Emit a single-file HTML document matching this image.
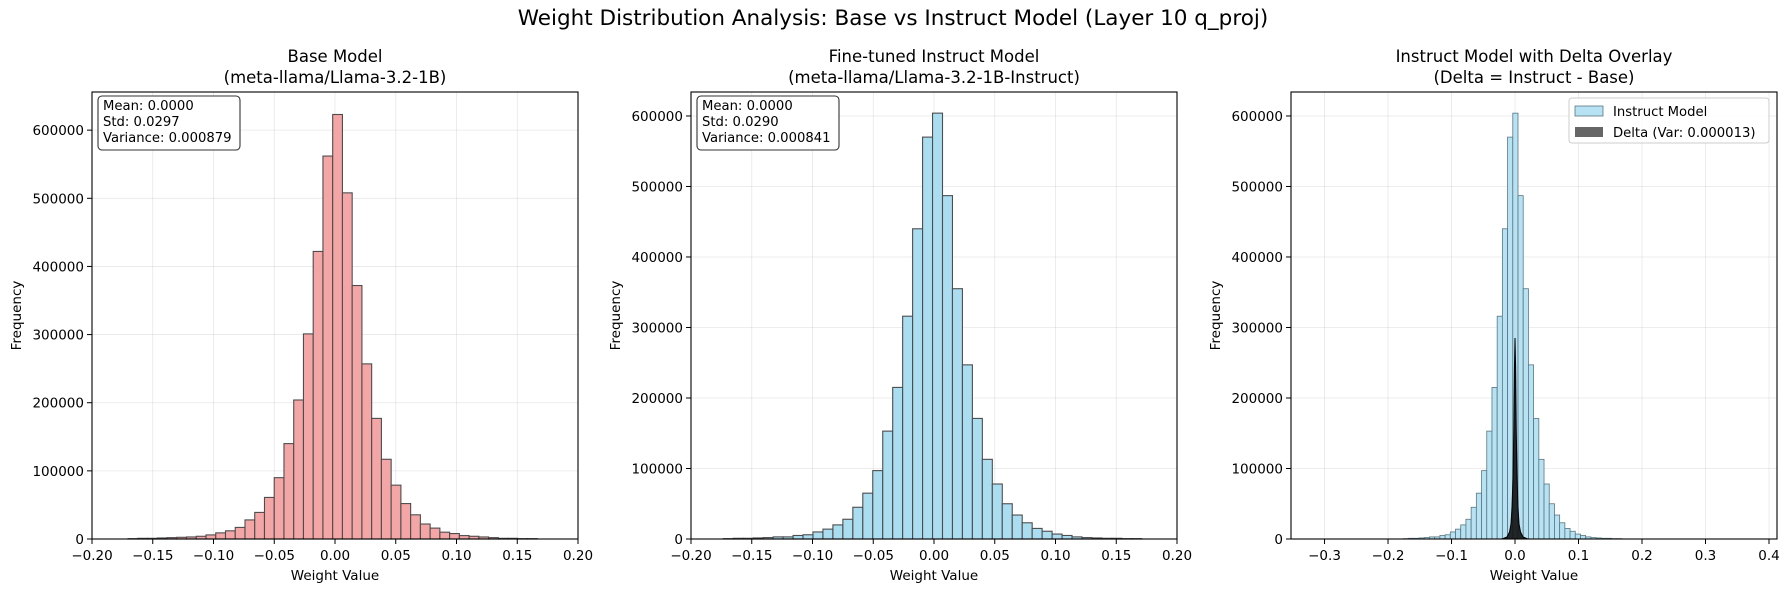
<!DOCTYPE html>
<html><head><meta charset="utf-8"><style>
html,body{margin:0;padding:0;background:#fff;}
svg{display:block;font-family:"DejaVu Sans","Liberation Sans",sans-serif;}
</style></head><body>
<svg id="s" width="1788" height="592" xmlns="http://www.w3.org/2000/svg">
<rect width="1788" height="592" fill="#fff"/>
<text x="893" y="25" font-size="21.5" text-anchor="middle" fill="#000">Weight Distribution Analysis: Base vs Instruct Model (Layer 10 q_proj)</text>
</svg>
<script>
var s=document.getElementById('s');var NS='http://www.w3.org/2000/svg';
function el(t,a,txt){var e=document.createElementNS(NS,t);for(var k in a)e.setAttribute(k,a[k]);if(txt!==undefined)e.textContent=txt;s.appendChild(e);return e;}
var T=92,B=539;
function panel(c){
 var X=function(v){return c.x0+(v-c.xmin)/(c.xmax-c.xmin)*(c.x1-c.x0);};
 var Y=function(v){return B-v/c.ymax*(B-T);};
 c.xt.forEach(function(t){var x=X(t);el('line',{x1:x,x2:x,y1:T,y2:B,stroke:'#b0b0b0','stroke-opacity':0.3,'stroke-width':0.8});});
 for(var v=0;v<=600000;v+=100000){var y=Y(v);el('line',{x1:c.x0,x2:c.x1,y1:y,y2:y,stroke:'#b0b0b0','stroke-opacity':0.3,'stroke-width':0.8});}
 var h=c.left.slice().reverse().concat([c.peak]).concat(c.right);
 var start=c.e0-c.left.length*c.w;
 h.forEach(function(v,i){var a=X(start+i*c.w),b=X(start+(i+1)*c.w);var y=Y(v*1000);
  el('rect',{x:a,y:y,width:b-a,height:B-y,fill:c.fill,stroke:c.stroke,'stroke-width':c.sw});});
 if(c.delta){var cx=X(0);var pts=[[-12,0.4],[-8,2],[-5.5,7],[-4,15],[-3,32],[-2,62],[-1.2,110],[-0.6,170],[0,201],[0.6,172],[1.2,112],[2,62],[3,32],[4,15],[5.5,7],[8,2],[12,0.4]];
  var d='M'+(cx-14)+','+B;pts.forEach(function(p){d+=' L'+(cx+p[0])+','+(B-p[1]);});d+=' L'+(cx+14)+','+B+' Z';
  el('path',{d:d,fill:'#111','fill-opacity':0.9,stroke:'#000','stroke-width':1});
 }
 el('rect',{x:c.x0,y:T,width:c.x1-c.x0,height:B-T,fill:'none',stroke:'#000','stroke-width':1.1});
 c.xt.forEach(function(t,i){var x=X(t);el('line',{x1:x,x2:x,y1:B,y2:B+5,stroke:'#000','stroke-width':1});
  el('text',{x:x,y:B+21,'font-size':13.5,'text-anchor':'middle'},c.xl[i]);});
 for(var v=0;v<=600000;v+=100000){var y=Y(v);el('line',{x1:c.x0-5,x2:c.x0,y1:y,y2:y,stroke:'#000','stroke-width':1});
  el('text',{x:c.x0-8,y:y+5,'font-size':13.5,'text-anchor':'end'},String(v));}
 var cx=(c.x0+c.x1)/2;
 el('text',{x:cx,y:580,'font-size':13.5,'text-anchor':'middle'},'Weight Value');
 el('text',{x:0,y:0,'font-size':13.5,'text-anchor':'middle',transform:'translate('+(c.x0-71)+','+((T+B)/2)+') rotate(-90)'},'Frequency');
 el('text',{x:cx,y:62,'font-size':16.5,'text-anchor':'middle'},c.t1);
 el('text',{x:cx,y:83,'font-size':16.5,'text-anchor':'middle'},c.t2);
 if(c.stats){el('rect',{x:c.x0+6,y:96,width:142,height:54,rx:4,fill:'#fff',stroke:'#333','stroke-width':1.1});
  c.stats.forEach(function(t,i){el('text',{x:c.x0+11,y:110+i*16,'font-size':13.2},t);});}
}
var L1=[562,422,301,204,140,90,61,39,28,17,12,9,6,4,3,2.5,2,1.5,1,1,0.5],R1=[508,372,257,177,117,79,52,35.5,22,16,10,8,5,4,3,2,1,1,0.5,0.5];
var L2=[570,440,316,215,153,97,65,45,28,20,14,10,6,5,3,3,2,1.5,1,1,0.5],R2=[487,355,247,171,113,78,50,34,23,15,11,7,5,3,2,1.5,1,1,0.5,0.5];
var xt1=[-0.2,-0.15,-0.1,-0.05,0,0.05,0.1,0.15,0.2],xl1=['\u22120.20','\u22120.15','\u22120.10','\u22120.05','0.00','0.05','0.10','0.15','0.20'];
panel({x0:92,x1:578,xmin:-0.2,xmax:0.2,ymax:656000,xt:xt1,xl:xl1,left:L1,right:R1,peak:623,e0:-0.0019,w:0.00802,
 fill:'#f4a6a6',stroke:'#4d4d4d',sw:1.1,t1:'Base Model',t2:'(meta-llama/Llama-3.2-1B)',stats:['Mean: 0.0000','Std: 0.0297','Variance: 0.000879']});
panel({x0:691,x1:1177,xmin:-0.2,xmax:0.2,ymax:634000,xt:xt1,xl:xl1,left:L2,right:R2,peak:604,e0:-0.0012,w:0.0082,
 fill:'#abddf1',stroke:'#4d4d4d',sw:1.1,t1:'Fine-tuned Instruct Model',t2:'(meta-llama/Llama-3.2-1B-Instruct)',stats:['Mean: 0.0000','Std: 0.0290','Variance: 0.000841']});
panel({x0:1291,x1:1777,xmin:-0.3528,xmax:0.4126,ymax:634000,xt:[-0.3,-0.2,-0.1,0,0.1,0.2,0.3,0.4],xl:['\u22120.3','\u22120.2','\u22120.1','0.0','0.1','0.2','0.3','0.4'],
 left:L2,right:R2,peak:604,e0:-0.0035,w:0.0082,fill:'#b7e2f3',stroke:'#5a7680',sw:0.8,t1:'Instruct Model with Delta Overlay',t2:'(Delta = Instruct - Base)',delta:true});
el('rect',{x:1569,y:98,width:200,height:45,rx:3,fill:'#fff','fill-opacity':0.8,stroke:'#ccc','stroke-width':1});
el('rect',{x:1575,y:106,width:28,height:10,fill:'#b7e2f3',stroke:'#5a7680','stroke-width':0.8});
el('rect',{x:1575,y:127,width:28,height:10,fill:'#666'});
el('text',{x:1613,y:116,'font-size':13.2},'Instruct Model');
el('text',{x:1613,y:137,'font-size':13.2},'Delta (Var: 0.000013)');
</script>
</body></html>
